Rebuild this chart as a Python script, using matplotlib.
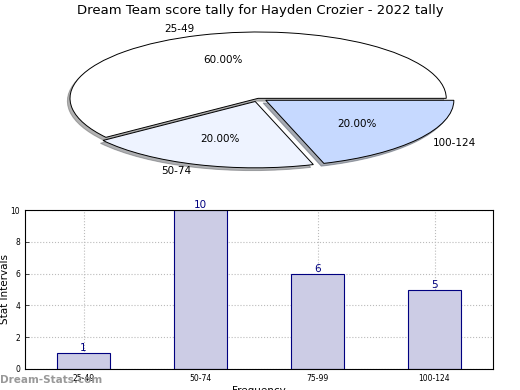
import matplotlib
matplotlib.use("Agg")
import matplotlib.pyplot as plt
import numpy as np

# pie data
pie_labels = ['25-49', '50-74', '100-124']
pie_values = [3, 1, 1]
pie_colors = ['#FFFFFF', '#EEF3FF', '#C6D9FF']

# bar data
bar_labels = ['25-49', '50-74', '75-99', '100-124']
bar_values = [1, 10, 6, 5]

fig = plt.figure(figsize=(5.2, 3.9), dpi=100)
fig.text(0.5, 0.972, 'Dream Team score tally for Hayden Crozier - 2022 tally',
         ha='center', va='center', fontsize=9.5)

#************************************
''' Pie '''
#************************************
ax1 = fig.add_axes([70/520, 1-166/390, 380/520, 134/390])
wedges, texts, autotexts = ax1.pie(pie_values, labels=pie_labels, colors=pie_colors,
                                   explode=[0, 0.05, 0.05], autopct='%1.2f%%',
                                   startangle=0, counterclock=True,
                                   shadow={'ox': -0.01, 'oy': -0.03, 'shade': 0.6},
                                   labeldistance=1.1, pctdistance=0.6,
                                   wedgeprops={'edgecolor': 'black', 'linewidth': 0.7},
                                   textprops={'fontsize': 7.5})
ax1.set_aspect('auto')
ax1.set_xlim(-1.0, 1.02)
ax1.set_ylim(-1.02, 1.0)

#************************************
''' Bars '''
#************************************
ax2 = fig.add_axes([25/520, 1-369/390, 468/520, 159/390])
x = np.arange(len(bar_labels))
ax2.bar(x, bar_values, width=0.45, color='#CCCCE5', edgecolor='#000080',
        linewidth=0.8, zorder=2)
for xi, v in zip(x, bar_values):
    ax2.text(xi, v, str(v), ha='center', va='bottom', color='#000080', fontsize=7.5)
ax2.set_xlim(-0.5, 3.5)
ax2.set_ylim(0, 10)
ax2.set_yticks([0, 2, 4, 6, 8, 10])
ax2.set_xticks(x)
ax2.set_xticklabels(bar_labels)
ax2.tick_params(labelsize=5.5, direction='in', length=3, width=0.5, colors='#000000')
ax2.grid(True, linestyle=':', color='#BBBBBB', linewidth=0.8, zorder=0)
ax2.set_axisbelow(True)
ax2.set_ylabel('Stat Intervals', fontsize=7.5)
ax2.yaxis.set_label_coords(-0.031, 0.5)
ax2.set_xlabel('Frequency', fontsize=7.5, labelpad=2)

fig.text(0.0, 1-380/390, 'Dream-Stats.com', color='#999999', fontsize=7.5,
         fontweight='bold', ha='left', va='center')

fig.savefig('out.png', dpi=100)
